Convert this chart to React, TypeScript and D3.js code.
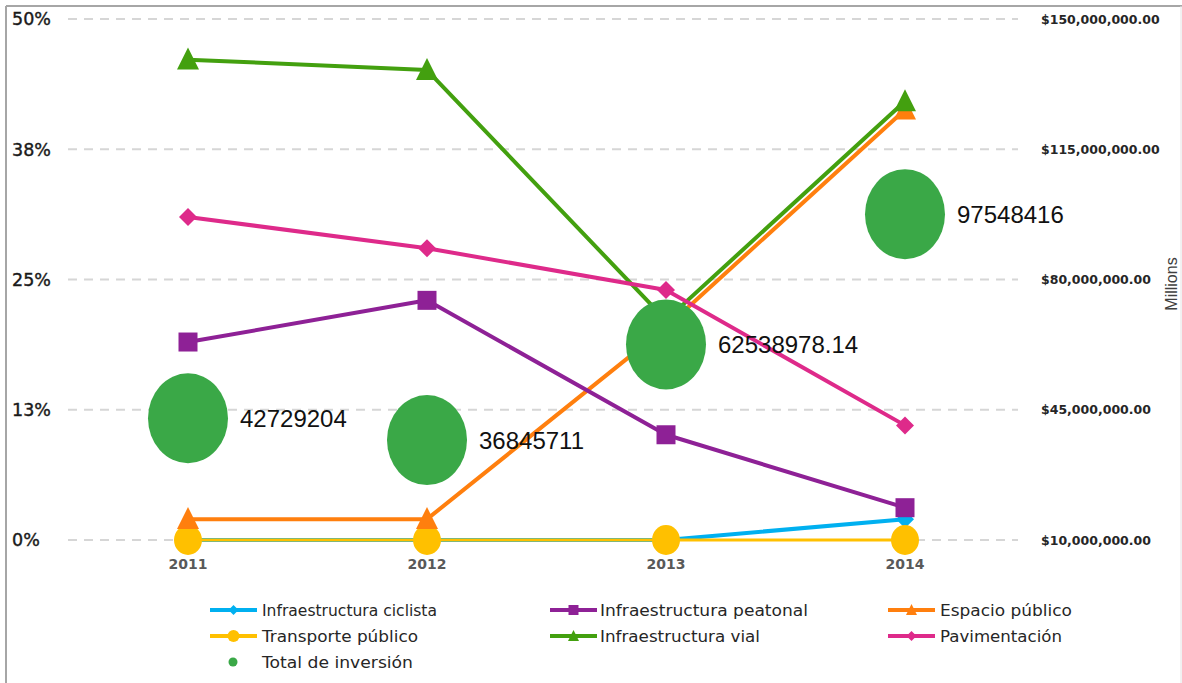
import React from "react";
import * as d3 from "d3";

const years = ["2011", "2012", "2013", "2014"];
const ciclista = [0, 0, 0, 2];
const peatonal = [19, 23, 10.1, 3.1];
const espacio = [2, 2, 20.4, 41.3];
const transporte = [0, 0, 0, 0];
const vial = [46.1, 45.1, 21.1, 42.1];
const pavimentacion = [31, 28, 24, 11];
const totalInversion = [42729204, 36845711, 62538978.14, 97548416];
const totalLabels = ["42729204", "36845711", "62538978.14", "97548416"];
const leftTicks = [0, 12.5, 25, 37.5, 50];
const leftTickLabels = ["0%", "13%", "25%", "38%", "50%"];
const rightTicks = [10e6, 45e6, 80e6, 115e6, 150e6];

type Marker = "diamond" | "square" | "triangle" | "circle";
interface Series { name: string; values: number[]; color: string; marker: Marker; width: number; textW: number; }

const series: Series[] = [
  { name: "Infraestructura ciclista", values: ciclista, color: "#00B0F0", marker: "diamond", width: 4, textW: 175 },
  { name: "Infraestructura peatonal", values: peatonal, color: "#8E2196", marker: "square", width: 4, textW: 208 },
  { name: "Espacio público", values: espacio, color: "#FF7F0E", marker: "triangle", width: 4, textW: 132 },
  { name: "Transporte público", values: transporte, color: "#FFC000", marker: "circle", width: 3, textW: 156 },
  { name: "Infraestructura vial", values: vial, color: "#43A00F", marker: "triangle", width: 4, textW: 160 },
  { name: "Pavimentación", values: pavimentacion, color: "#DE2A8A", marker: "diamond", width: 4, textW: 122 },
];
// drawing order (back to front)
const drawOrder = [0, 3, 2, 4, 1, 5];

const x = d3.scalePoint<string>().domain(years).range([188, 905]);
const yL = d3.scaleLinear().domain([0, 50]).range([540, 19]);
const yR = d3.scaleLinear().domain([10e6, 150e6]).range([540, 19]);

function markerPath(m: Marker, size: number): string {
  const s = size;
  switch (m) {
    case "diamond":
      return `M0,${-s / 2}L${s / 2},0L0,${s / 2}L${-s / 2},0Z`;
    case "square":
      return `M${-s / 2},${-s / 2}h${s}v${s}h${-s}Z`;
    case "triangle":
      return `M0,${-s * 0.55}L${s / 2},${s * 0.45}L${-s / 2},${s * 0.45}Z`;
    default:
      return "";
  }
}

function MarkerShape({ m, cx, cy, size, color, rx, ry }: { m: Marker; cx: number; cy: number; size: number; color: string; rx?: number; ry?: number }) {
  if (m === "circle") {
    return <ellipse cx={cx} cy={cy} rx={rx ?? size / 2} ry={ry ?? size / 2} fill={color} />;
  }
  return <path d={markerPath(m, size)} transform={`translate(${cx},${cy})`} fill={color} />;
}

const markerSize: Record<Marker, number> = { diamond: 18, square: 19, triangle: 22, circle: 26 };

export default function App() {
  const line = d3
    .line<number>()
    .x((_, i) => x(years[i]) as number)
    .y((v) => yL(v));

  const legendCols = [210, 550, 888];
  const legendTextX = [262, 600, 940];
  const legendRows = [610, 636, 662];

  return (
    <svg
      width={1182}
      height={683}
      style={{ position: "absolute", left: 0, top: 0, background: "#fff" }}
    >
      <rect x={0} y={0} width={1182} height={683} fill="#fff" />
      {/* frame */}
      <line x1={6} y1={6} x2={1182} y2={6} stroke="#A6A6A6" strokeWidth={2} />
      <line x1={6} y1={6} x2={6} y2={683} stroke="#A6A6A6" strokeWidth={2} />
      <line x1={1181} y1={6} x2={1181} y2={683} stroke="#E4E4E4" strokeWidth={1} />

      {/* gridlines */}
      {leftTicks.map((t) => (
        <line
          key={t}
          x1={68}
          x2={1018}
          y1={yL(t)}
          y2={yL(t)}
          stroke="#D6D6D6"
          strokeWidth={2}
          strokeDasharray="9,7"
        />
      ))}

      {/* left axis labels */}
      {leftTicks.map((t, i) => (
        <text
          key={t}
          x={12}
          y={yL(t)}
          dy="0.36em"
          fontFamily="DejaVu Sans, Verdana, sans-serif"
          fontSize={17.5}
          fill="#1a1a1a"
          stroke="#1a1a1a"
          strokeWidth={0.4}
        >
          {leftTickLabels[i]}
        </text>
      ))}

      {/* right axis labels */}
      {rightTicks.map((t) => (
        <text
          key={t}
          x={1041}
          y={yR(t)}
          dy="0.36em"
          fontFamily="DejaVu Sans, Verdana, sans-serif"
          fontWeight="bold"
          fontSize={12.5}
          fill="#262626"
        >
          {d3.format("$,.2f")(t)}
        </text>
      ))}
      <text
        transform="translate(1177,284) rotate(-90)"
        textAnchor="middle"
        fontFamily="Liberation Sans, Arial, sans-serif"
        fontSize={16}
        fill="#404040"
      >
        Millions
      </text>

      {/* x labels */}
      {years.map((yr) => (
        <text
          key={yr}
          x={x(yr)}
          y={569}
          textAnchor="middle"
          fontFamily="DejaVu Sans, Verdana, sans-serif"
          fontWeight="bold"
          fontSize={14}
          fill="#595959"
        >
          {yr}
        </text>
      ))}

      {/* series lines + markers */}
      {drawOrder.map((si) => {
        const s = series[si];
        return (
          <g key={s.name}>
            <path d={line(s.values) ?? ""} fill="none" stroke={s.color} strokeWidth={s.width} strokeLinejoin="round" />
            {s.values.map((v, i) => (
              <MarkerShape
                key={i}
                m={s.marker}
                cx={x(years[i]) as number}
                cy={yL(v)}
                size={markerSize[s.marker]}
                color={s.color}
                rx={s.marker === "circle" ? 14 : undefined}
                ry={s.marker === "circle" ? 15 : undefined}
              />
            ))}
          </g>
        );
      })}

      {/* total de inversión bubbles */}
      {totalInversion.map((v, i) => {
        const cx = x(years[i]) as number;
        const cy = yR(v);
        return (
          <g key={i}>
            <ellipse cx={cx} cy={cy} rx={40} ry={45} fill="#3AA847" />
            <text
              x={cx + 52}
              y={cy}
              dy="0.36em"
              fontFamily="Liberation Sans, Arial, sans-serif"
              fontSize={24}
              fill="#111"
            >
              {totalLabels[i]}
            </text>
          </g>
        );
      })}

      {/* legend */}
      {series.map((s, i) => {
        const col = i % 3;
        const row = Math.floor(i / 3);
        const lx = legendCols[col];
        const ly = legendRows[row];
        const msize = s.marker === "circle" ? 12 : s.marker === "triangle" ? 11 : 10;
        return (
          <g key={s.name}>
            <line x1={lx} x2={lx + 47} y1={ly} y2={ly} stroke={s.color} strokeWidth={4} />
            <MarkerShape m={s.marker} cx={lx + 23.5} cy={ly} size={msize} color={s.color} />
            <text
              x={legendTextX[col]}
              y={ly}
              dy="0.35em"
              fontFamily="DejaVu Sans, Verdana, sans-serif"
              fontSize={16.5}
              fill="#262626"
              textLength={s.textW}
              lengthAdjust="spacingAndGlyphs"
            >
              {s.name}
            </text>
          </g>
        );
      })}
      <g>
        <circle cx={233} cy={legendRows[2]} r={4.5} fill="#3AA847" />
        <text
          x={262}
          y={legendRows[2]}
          dy="0.35em"
          fontFamily="DejaVu Sans, Verdana, sans-serif"
          fontSize={16.5}
          fill="#262626"
          textLength={151}
          lengthAdjust="spacingAndGlyphs"
        >
          Total de inversión
        </text>
      </g>
    </svg>
  );
}
